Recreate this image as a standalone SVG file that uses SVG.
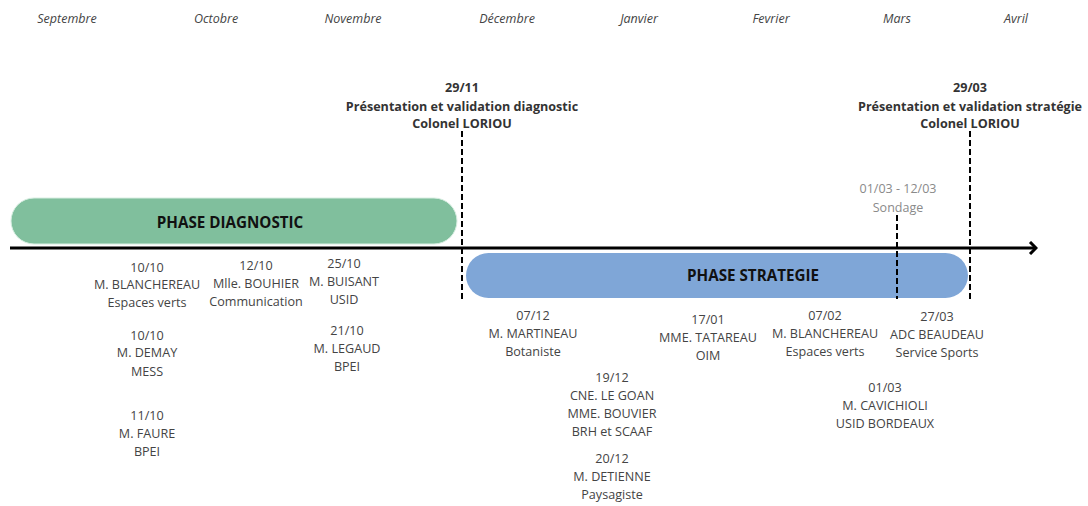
<svg xmlns="http://www.w3.org/2000/svg" width="1088" height="506" viewBox="0 0 1088 506">
  <style>
    text { font-family: "Open Sans", "Liberation Sans", sans-serif; text-anchor: middle; }
    .month { font-size: 12.5px; font-style: italic; fill: #444; }
    .milestone { font-size: 12.6px; font-weight: bold; fill: #333; }
    .phase { font-size: 15.2px; font-weight: bold; fill: #111; }
    .info { font-size: 12.6px; fill: #444; }
    .grey { font-size: 12.5px; fill: #8a8a8a; }
    .dash { stroke: #000; stroke-width: 2; stroke-dasharray: 6 3; fill: none; }
    .axis { stroke: #000; stroke-width: 3; fill: none; }
  </style>
  <defs>
    <marker id="arrow" markerWidth="10" markerHeight="14" refX="8" refY="7" orient="auto" markerUnits="userSpaceOnUse">
      <path d="M2,1 L8,7 L2,13" fill="none" stroke="#000" stroke-width="3"/>
    </marker>
  </defs>
  <rect width="1088" height="506" fill="#fff"/>

  <g id="months">
    <text class="month" x="67" y="22.5">Septembre</text>
    <text class="month" x="216" y="22.5">Octobre</text>
    <text class="month" x="353" y="22.5">Novembre</text>
    <text class="month" x="507" y="22.5">Décembre</text>
    <text class="month" x="639" y="22.5">Janvier</text>
    <text class="month" x="771" y="22.5">Fevrier</text>
    <text class="month" x="897" y="22.5">Mars</text>
    <text class="month" x="1016" y="22.5">Avril</text>
  </g>

  <g id="phase-diagnostic">
    <rect x="11" y="198" width="446" height="46" rx="23" fill="#80bf9d" stroke="#d8eee2" stroke-width="1"/>
    <text class="phase" x="230" y="227.5">PHASE DIAGNOSTIC</text>
  </g>
  <g id="phase-strategie">
    <rect x="466" y="253" width="502" height="45" rx="22.5" fill="#7fa6d7"/>
    <text class="phase" x="753" y="281">PHASE STRATEGIE</text>
  </g>

  <g id="connectors">
    <line class="axis" x1="10" y1="248" x2="1036" y2="248" marker-end="url(#arrow)"/>
    <line class="dash" x1="462" y1="131" x2="462" y2="299"/>
    <line class="dash" x1="970" y1="131" x2="970" y2="299"/>
    <line class="dash" x1="897" y1="215" x2="897" y2="299"/>
  </g>

  <g id="milestone-2911">
    <text class="milestone" x="462" y="92">29/11</text>
    <text class="milestone" x="462" y="110.5">Présentation et validation diagnostic</text>
    <text class="milestone" x="462" y="128">Colonel LORIOU</text>
  </g>
  <g id="milestone-2903">
    <text class="milestone" x="970" y="92">29/03</text>
    <text class="milestone" x="970" y="110.5">Présentation et validation stratégie</text>
    <text class="milestone" x="970" y="128">Colonel LORIOU</text>
  </g>
  <g id="sondage">
    <text class="grey" x="898" y="192.5">01/03 - 12/03</text>
    <text class="grey" x="898" y="211.5">Sondage</text>
  </g>

  <g id="m-1010-blanchereau">
    <text class="info" x="147" y="271.5">10/10<tspan x="147" dy="17.5">M. BLANCHEREAU</tspan><tspan x="147" dy="18">Espaces verts</tspan></text>
  </g>
  <g id="m-1210-bouhier">
    <text class="info" x="256" y="269.5">12/10<tspan x="256" dy="18">Mlle. BOUHIER</tspan><tspan x="256" dy="18">Communication</tspan></text>
  </g>
  <g id="m-2510-buisant">
    <text class="info" x="344" y="267.5">25/10<tspan x="344" dy="18.5">M. BUISANT</tspan><tspan x="344" dy="18">USID</tspan></text>
  </g>
  <g id="m-1010-demay">
    <text class="info" x="147" y="339.5">10/10<tspan x="147" dy="17.5">M. DEMAY</tspan><tspan x="147" dy="18.5">MESS</tspan></text>
  </g>
  <g id="m-2110-legaud">
    <text class="info" x="347" y="334.5">21/10<tspan x="347" dy="18">M. LEGAUD</tspan><tspan x="347" dy="18">BPEI</tspan></text>
  </g>
  <g id="m-1110-faure">
    <text class="info" x="147" y="419.5">11/10<tspan x="147" dy="18">M. FAURE</tspan><tspan x="147" dy="18">BPEI</tspan></text>
  </g>
  <g id="m-0712-martineau">
    <text class="info" x="533" y="319.5">07/12<tspan x="533" dy="18.5">M. MARTINEAU</tspan><tspan x="533" dy="18">Botaniste</tspan></text>
  </g>
  <g id="m-1912-legoan">
    <text class="info" x="612" y="381.5">19/12<tspan x="612" dy="18">CNE. LE GOAN</tspan><tspan x="612" dy="18">MME. BOUVIER</tspan><tspan x="612" dy="18">BRH et SCAAF</tspan></text>
  </g>
  <g id="m-2012-detienne">
    <text class="info" x="612" y="462.5">20/12<tspan x="612" dy="18">M. DETIENNE</tspan><tspan x="612" dy="18">Paysagiste</tspan></text>
  </g>
  <g id="m-1701-tatareau">
    <text class="info" x="708" y="323.5">17/01<tspan x="708" dy="18">MME. TATAREAU</tspan><tspan x="708" dy="18">OIM</tspan></text>
  </g>
  <g id="m-0702-blanchereau">
    <text class="info" x="825" y="319.5">07/02<tspan x="825" dy="18.5">M. BLANCHEREAU</tspan><tspan x="825" dy="18">Espaces verts</tspan></text>
  </g>
  <g id="m-2703-beaudeau">
    <text class="info" x="937" y="320.5">27/03<tspan x="937" dy="18">ADC BEAUDEAU</tspan><tspan x="937" dy="18">Service Sports</tspan></text>
  </g>
  <g id="m-0103-cavichioli">
    <text class="info" x="885" y="391.5">01/03<tspan x="885" dy="18.5">M. CAVICHIOLI</tspan><tspan x="885" dy="18">USID BORDEAUX</tspan></text>
  </g>
</svg>
